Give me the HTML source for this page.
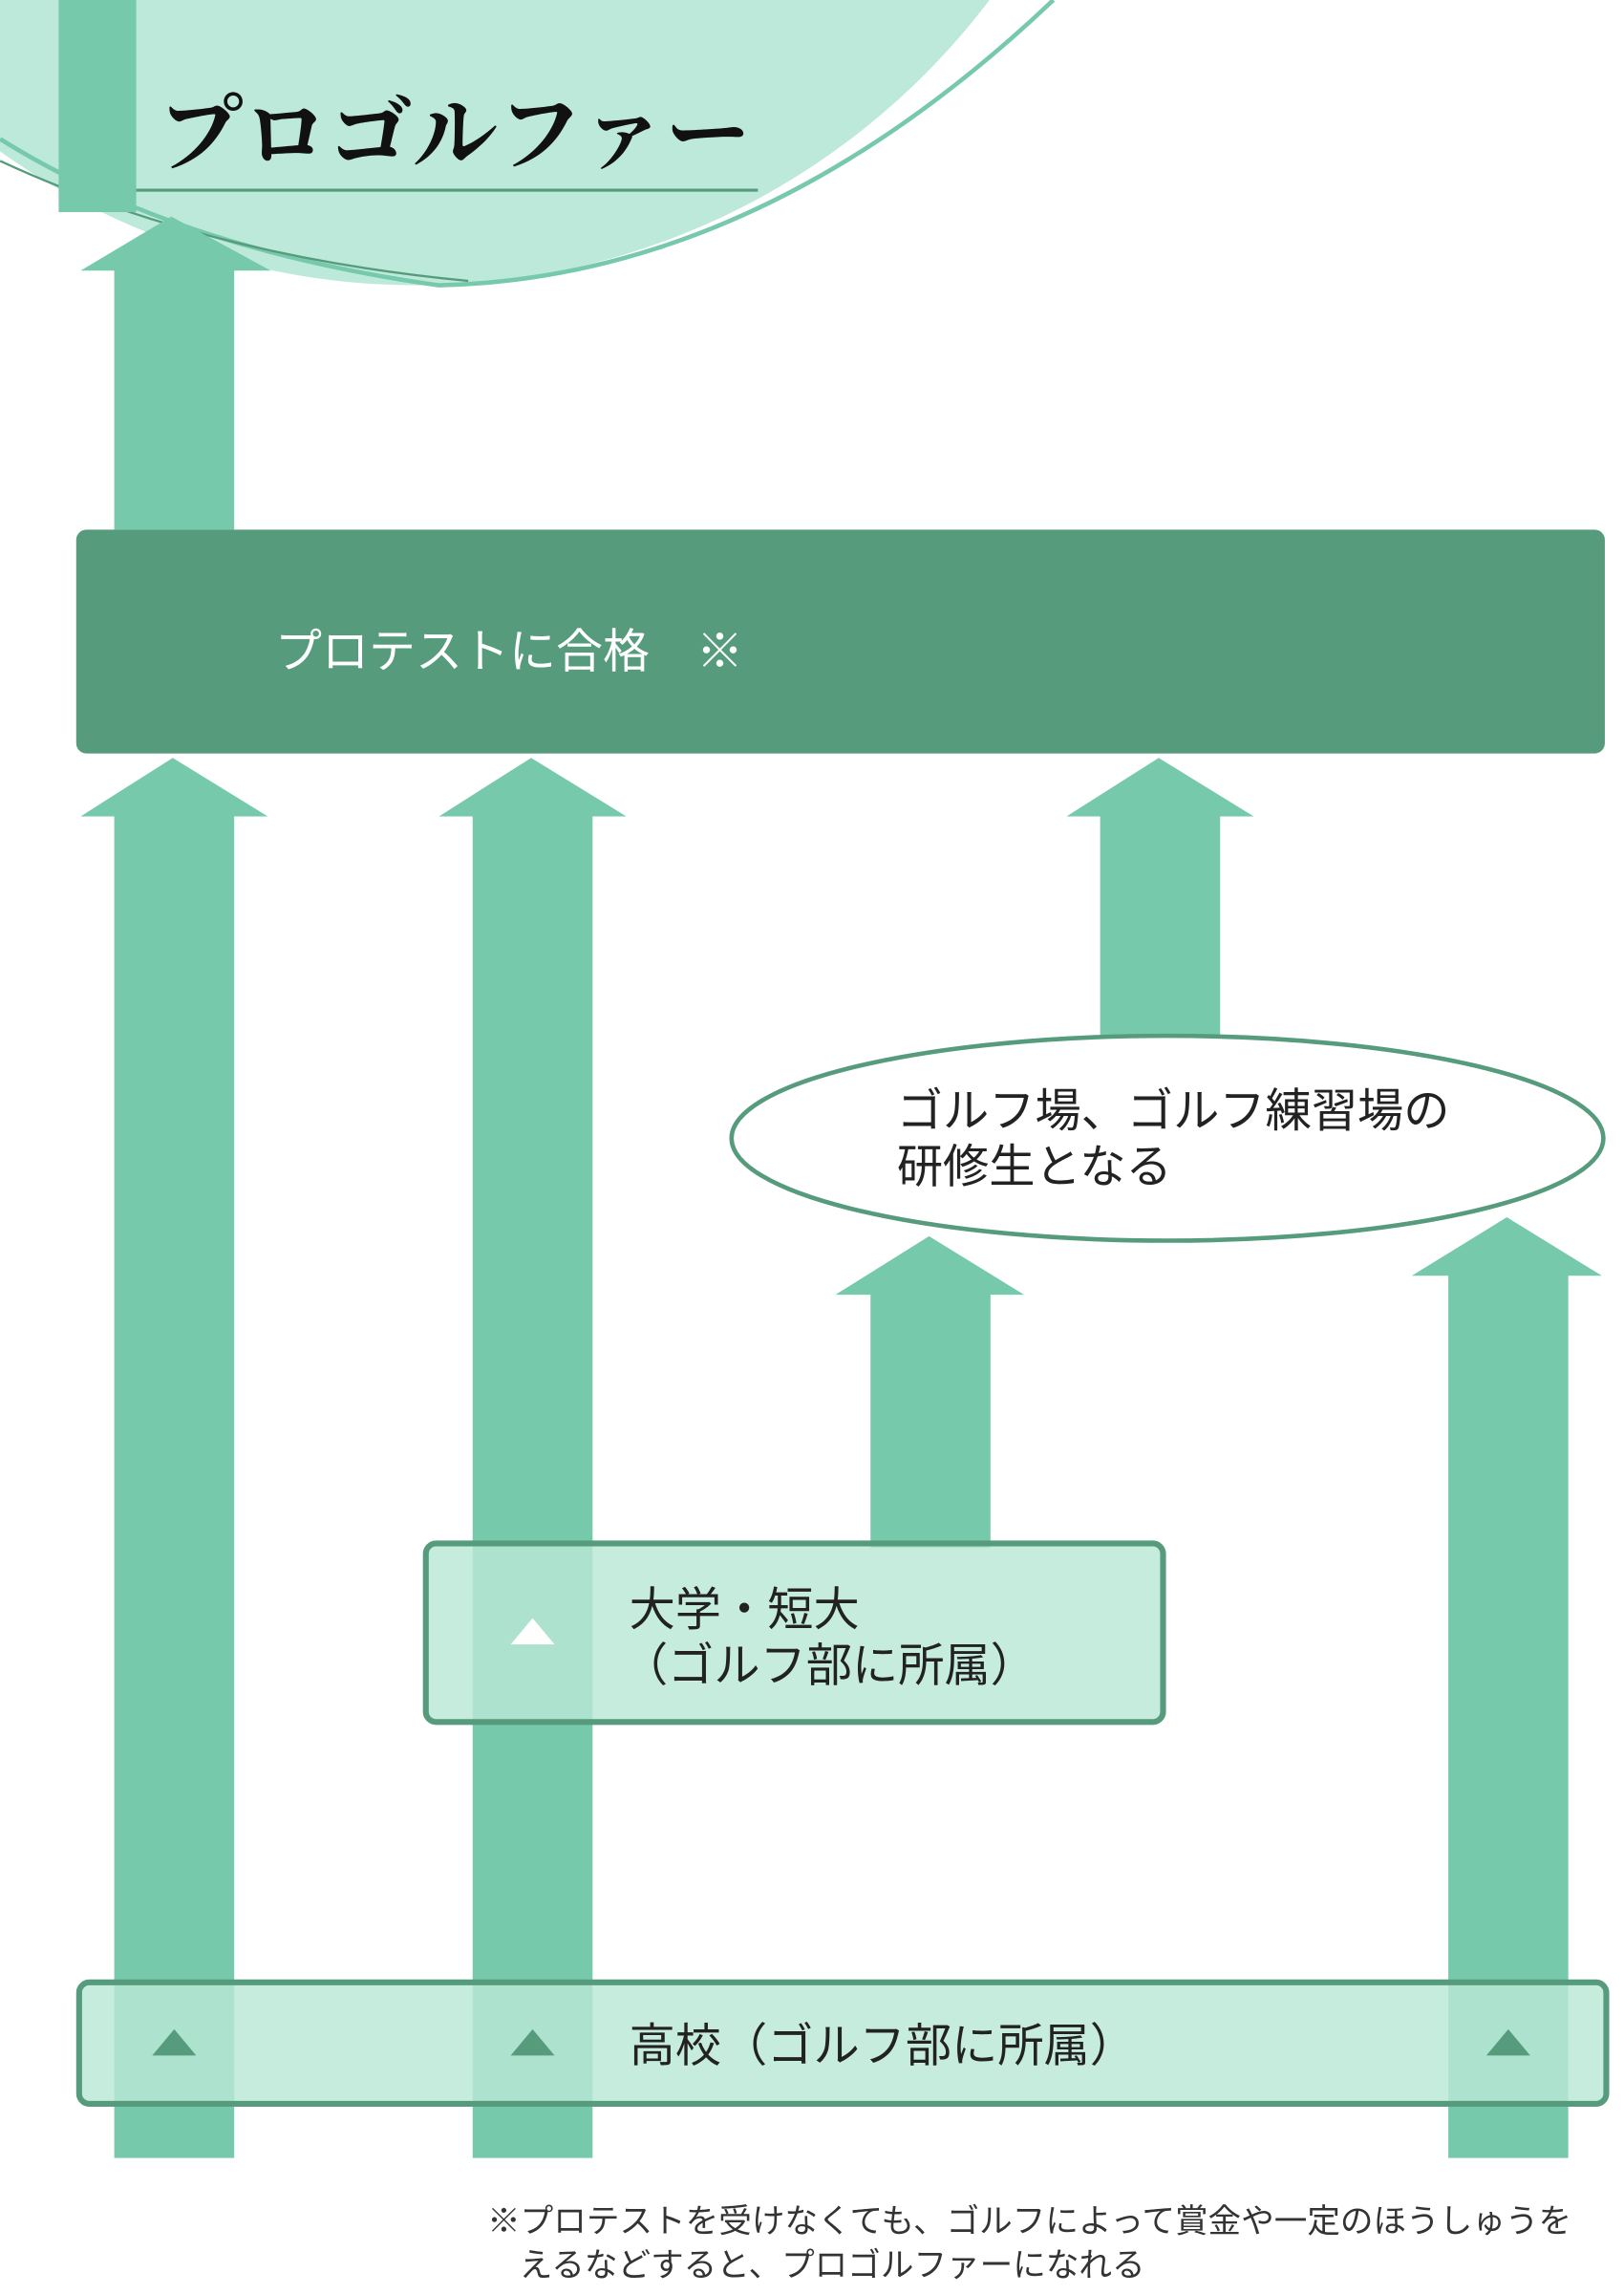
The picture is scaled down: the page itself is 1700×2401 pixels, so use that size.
<!DOCTYPE html>
<html><head><meta charset="utf-8"><style>
html,body{margin:0;padding:0;background:#fff;}
svg{display:block;}
text{font-family:"Liberation Sans","Noto Sans CJK JP",sans-serif;}
</style></head><body>
<svg width="1700" height="2401" viewBox="0 0 1110 1568" xmlns="http://www.w3.org/2000/svg">
  <ellipse cx="285" cy="-300" rx="492" ry="495" fill="#bde9db"/>
  <path d="M0 95 Q120 170 300 195 Q520 190 720 0" fill="none" stroke="#76c9ab" stroke-width="3"/>
  <path d="M0 110 Q140 175 320 192" fill="none" stroke="#559b7c" stroke-width="1.5"/>
  <rect x="40" y="0" width="53" height="145" fill="#76c9ab"/>
  <line x1="93" y1="130" x2="518" y2="130" stroke="#559b7c" stroke-width="2"/>
  <text x="108" y="112" font-size="58" font-weight="bold" fill="#111" style="font-family:'Liberation Serif','Noto Serif CJK SC',serif">プロゴルファー</text>

  <g fill="#76c9ab">
    <polygon points="55,185 117,148 185,185 160,185 160,362 78,362 78,185"/>
    <polygon points="55,558 118,518 183,558 160,558 160,1475 78,1475 78,558"/>
    <polygon points="300,558 363,518 428,558 405,558 405,1475 323,1475 323,558"/>
    <polygon points="729,558 792,518 857,558 834,558 834,708 752,708 752,558"/>
    <polygon points="571,885 635,845 700,885 677,885 677,1058 595,1058 595,885"/>
    <polygon points="965,872 1030,832 1095,872 1072,872 1072,1475 990,1475 990,872"/>
  </g>

  <rect x="52" y="362" width="1045" height="153" rx="7" fill="#559b7c"/>
  <text x="188" y="456" font-size="32" fill="#fff">プロテストに合格　※</text>

  <ellipse cx="798" cy="778" rx="298" ry="70" fill="#fff" stroke="#559b7c" stroke-width="3"/>
  <text x="613" y="770" font-size="31.5" fill="#222">ゴルフ場、ゴルフ練習場の</text>
  <text x="613" y="808" font-size="31.5" fill="#222">研修生となる</text>

  <rect x="291" y="1055" width="504" height="122" rx="7" fill="rgba(185,232,215,0.82)" stroke="#559b7c" stroke-width="4"/>
  <polygon points="349,1124 364,1106 379,1124" fill="#fff"/>
  <text x="430" y="1111" font-size="31.5" fill="#222">大学・短大</text>
  <text x="425" y="1149" font-size="31.5" fill="#222">（ゴルフ部に所属）</text>

  <rect x="54" y="1355" width="1044" height="83" rx="7" fill="rgba(185,232,215,0.82)" stroke="#559b7c" stroke-width="4"/>
  <polygon points="104,1405 119,1387 134,1405" fill="#559b7c"/>
  <polygon points="349,1405 364,1387 379,1405" fill="#559b7c"/>
  <polygon points="1016,1405 1031,1387 1046,1405" fill="#559b7c"/>
  <text x="430" y="1409" font-size="31.5" fill="#222">高校（ゴルフ部に所属）</text>

  <text x="333" y="1526" font-size="22.6" fill="#333">※プロテストを受けなくても、ゴルフによって賞金や一定のほうしゅうを</text>
  <text x="355" y="1556" font-size="22.6" fill="#333">えるなどすると、プロゴルファーになれる</text>
</svg>
</body></html>
